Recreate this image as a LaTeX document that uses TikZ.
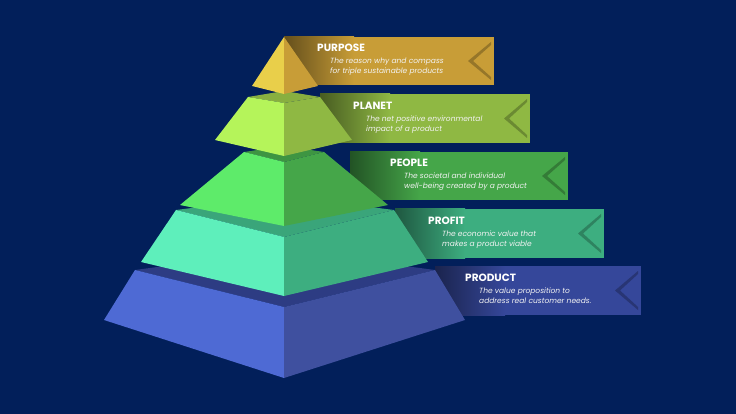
\documentclass[tikz,border=0pt]{standalone}
\usepackage{fontspec}
\setmainfont{Poppins}
\begin{document}
\begin{tikzpicture}[x=1pt,y=-1pt,
  ttl/.style={anchor=west,text=white,font=\bfseries\fontsize{10.5}{12}\selectfont,inner sep=0},
  dsc/.style={anchor=north west,text=white!90!gray,font=\itshape\fontsize{7.5}{9.8}\selectfont,align=left,inner sep=0}]
\definecolor{bg}{RGB}{2,31,90}
\fill[bg] (0,0) rectangle (736,414);
\newcommand{\banner}[5]{%
  \fill[#5] ({#1+69},#2) rectangle (#3,#4);
  \shade[left color=#5!50!black,right color=#5] (#1,#2) rectangle ({#1+70},#4);
  \fill[#5!75!black] ({#3-3},{#2+5}) -- ({#3-26},{(#2+#4)/2}) -- ({#3-3},{#4-5}) -- ({#3-3},{#4-8}) -- ({#3-21},{(#2+#4)/2}) -- ({#3-3},{#2+8}) -- cycle;}
\definecolor{cPu}{RGB}{200,157,55}
\definecolor{cPl}{RGB}{143,184,67}
\definecolor{cPe}{RGB}{69,166,73}
\definecolor{cPr}{RGB}{61,174,128}
\definecolor{cPd}{RGB}{53,71,154}
\definecolor{lPu}{RGB}{233,207,74}
\definecolor{lPl}{RGB}{181,244,90}
\definecolor{lPe}{RGB}{94,235,106}
\definecolor{lPr}{RGB}{94,239,187}
\definecolor{lPd}{RGB}{78,106,212}
\banner{284}{37}{494}{85}{cPu}
\banner{320}{94}{530}{143}{cPl}
\banner{350}{152}{568}{200}{cPe}
\banner{395}{209}{604}{258}{cPr}
\banner{435}{266}{641}{315}{cPd}
\newcommand{\tier}[9]{%
  \fill[tcol] (#1,#2) -- (284,#5) -- (#3,#2) -- (284,#4) -- cycle;
  \fill[lcol] (#1,#2) -- (284,#4) -- (284,#9) -- (#6,#7) -- cycle;
  \fill[rcol] (#3,#2) -- (284,#4) -- (284,#9) -- (#8,#7) -- cycle;}
\colorlet{tcol}{cPd!85!black}\colorlet{lcol}{lPd}\colorlet{rcol}{cPd!95!white}
\tier{135}{270}{435}{307}{250}{104}{320}{465}{378}
\colorlet{tcol}{cPr!95!black}\colorlet{lcol}{lPr}\colorlet{rcol}{cPr}
\tier{176}{210}{394}{237}{196}{141}{262}{428}{296}
\colorlet{tcol}{cPe!90!black}\colorlet{lcol}{lPe}\colorlet{rcol}{cPe}
\tier{244}{152}{324}{162}{146}{180}{205}{388}{226}
\colorlet{tcol}{cPl!95!black}\colorlet{lcol}{lPl}\colorlet{rcol}{cPl}
\tier{248}{97}{320}{103}{91}{215}{140}{352}{156}
\fill[lPu] (284,37) -- (284,94) -- (252,86) -- cycle;
\fill[cPu] (284,37) -- (284,94) -- (318,86) -- cycle;
\node[ttl] (t1) at (317,48) {PURPOSE};
\node[dsc] (d1) at (330,58) {The reason why and compass\\for triple sustainable products};
\node[ttl] (t2) at (353,106) {PLANET};
\node[dsc] (d2) at (366,116) {The net positive environmental\\impact of a product};
\node[ttl] (t3) at (390,163) {PEOPLE};
\node[dsc] (d3) at (404,173) {The societal and individual\\well-being created by a product};
\node[ttl] (t4) at (428,221) {PROFIT};
\node[dsc] (d4) at (442,231) {The economic value that\\makes a product viable};
\node[ttl] (t5) at (465,278) {PRODUCT};
\node[dsc] (d5) at (479,288) {The value proposition to\\address real customer needs.};
\end{tikzpicture}
\end{document}
